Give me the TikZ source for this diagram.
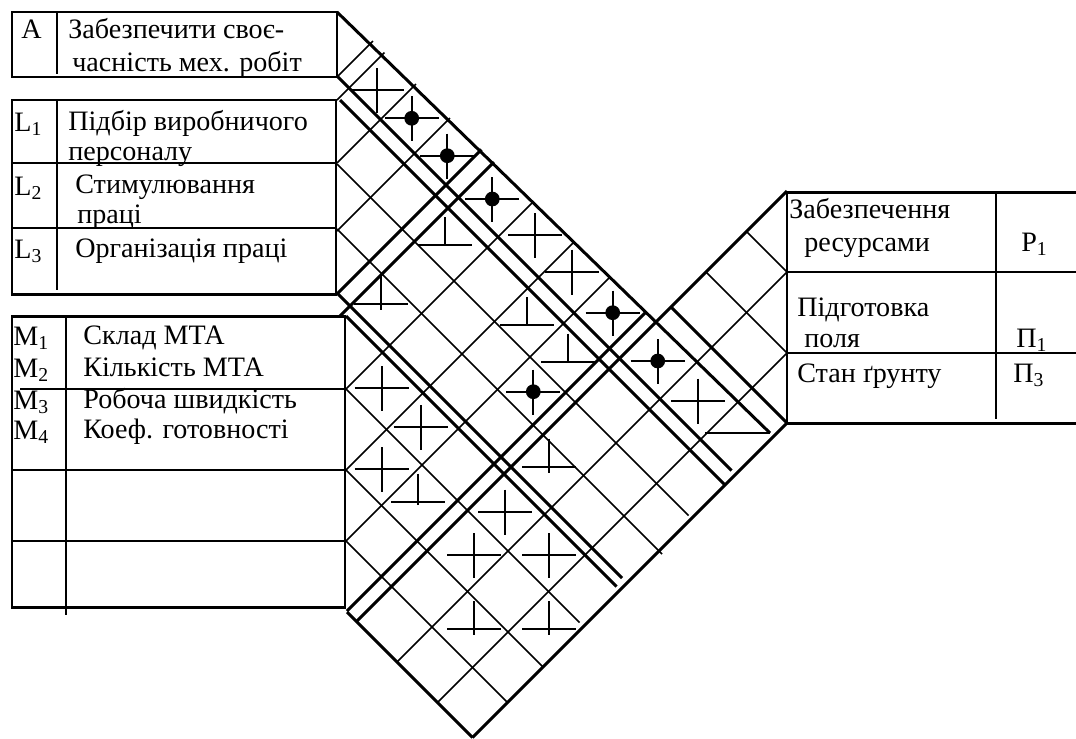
\documentclass[tikz,border=0pt]{standalone}
\usepackage{fontspec}
\setmainfont{Liberation Serif}
\begin{document}
\begin{tikzpicture}[x=0.02cm,y=-0.02cm,
  heavy/.style={line width=1.7pt},
  light/.style={line width=0.85pt},
  markline/.style={line width=1pt},
  every node/.style={font=\fontsize{16}{19}\selectfont,inner sep=0pt,anchor=base west}]
\useasboundingbox (0,0) rectangle (1076,738);
\draw[heavy] (12,12) rectangle (337,77);
\draw[light] (57,12) -- (57,74);
\draw[heavy] (12,100) rectangle (336,294);
\draw[light] (12,163) -- (336,163) (12,228) -- (336,228) (57,100) -- (57,290);
\draw[heavy] (12,316) rectangle (345,607);
\draw[light] (20,389) -- (345,389) (12,470) -- (345,470) (12,541) -- (345,541) (66,316) -- (66,615);
\draw[heavy] (1076,192) -- (787,192) -- (787,423) -- (1076,423);
\draw[light] (787,272) -- (1076,272) (787,353) -- (1076,353) (996,192) -- (996,419);
\node (a) at (21,38) {A};
\node (a1) at (68,38) {Забезпечити своє-};
\node (a2) at (72,71) {часність мех. робіт};
\node (l1) at (14,131) {L\textsubscript{1}};
\node (l1a) at (68,130) {Підбір виробничого};
\node (l1b) at (68,160) {персоналу};
\node (l2) at (14,195) {L\textsubscript{2}};
\node (l2a) at (75,193) {Стимулювання};
\node (l2b) at (77,223) {праці};
\node (l3) at (14,258) {L\textsubscript{3}};
\node (l3a) at (75,257) {Організація праці};
\node (m1) at (13,345) {M\textsubscript{1}};
\node (m1a) at (83,344) {Склад МТА};
\node (m2) at (13,377) {M\textsubscript{2}};
\node (m2a) at (83,376) {Кількість МТА};
\node (m3) at (13,409) {M\textsubscript{3}};
\node (m3a) at (83,408) {Робоча швидкість};
\node (m4) at (13,439) {M\textsubscript{4}};
\node (m4a) at (83,438) {Коеф. готовності};
\node (r1a) at (789,218) {Забезпечення};
\node (r1b) at (804,251) {ресурсами};
\node (r1) at (1021,251) {P\textsubscript{1}};
\node (r2a) at (797,316) {Підготовка};
\node (r2b) at (804,347) {поля};
\node (r2) at (1016,347) {П\textsubscript{1}};
\node (r3a) at (797,382) {Стан ґрунту};
\node (r3) at (1013,382) {П\textsubscript{3}};
\draw[heavy] (337,12) -- (770,433);
\foreach \d/\xs/\se/\w in {-261/337/1202/heavy,-240/340/1210/heavy,-173/337/1204/light,-108/337/1216/light,-44/337/1200/heavy,-30/346/1203/heavy,43/346/1202/light,124/346/1210/light,195/346/1210/light,265/347/1210/heavy}
  \draw[\w] ({\xs},{\xs+(\d)}) -- ({(\se-(\d))/2},{(\se+(\d))/2});
\foreach \s/\xs/\w in {414/337/light,437/337/light,500/337/light,568/337/light,631/337/heavy,656/340/heavy,735/346/light,816/346/light,887/346/light,958/347/heavy}
  \draw[\w] ({\xs},{\s-\xs}) -- ({(\s+332)/2},{(\s-332)/2});
\foreach \s/\w in {978/heavy,1059/light,1140/light,1210/heavy}
  \draw[\w] (787,{\s-787}) -- ({(\s-265)/2},{(\s+265)/2});
\foreach \d/\w in {-515/light,-434/light,-364/heavy}
  \draw[\w] (787,{787+(\d)}) -- ({(978-(\d))/2},{(978+(\d))/2});
\foreach \x/\y in {376.7/90,535/235,571.7/271.7,698.3/400.7,505/511.7,474/555,549/555,381.7/388.3,420.7/427.3,381.7/469.3}
  \draw[markline] (\x-27,\y) -- (\x+27,\y) (\x,\y-22) -- (\x,\y+23);
\foreach \x/\y in {411.7/118.3,447.3/155.7,492.3/199,612.7/312.7,657.7/361,533.3/391.7}{
  \draw[markline] (\x-27,\y) -- (\x+27,\y) (\x,\y-22) -- (\x,\y+23);
  \fill (\x,\y) circle[radius=4.2pt];}
\foreach \x/\y/\b in {445/245/0,526.7/325/0,568.3/361.7/0,549.3/466.7/6,474/629.3/6,549/629.3/6,380.7/304.3/6,418.3/501.7/3}
  \draw[markline] (\x-27,\y) -- (\x+27,\y) (\x,\y-28) -- (\x,\y+\b);
\draw[markline] (705,433.3) -- (770,433.3);
\end{tikzpicture}
\end{document}
